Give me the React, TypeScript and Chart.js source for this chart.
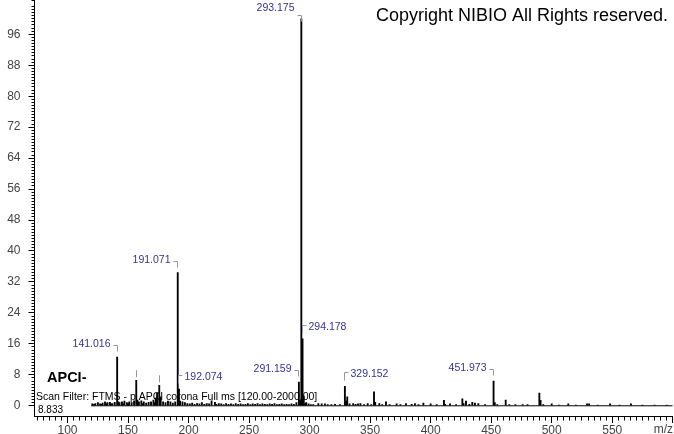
import React, { useEffect, useRef } from 'react';
import { Chart, registerables } from 'chart.js';

Chart.register(...registerables);

// ---- data (m/z, relative abundance) ----
const mzValues: number[] = [
  120.5, 121.9, 123.0, 125.1, 126.9, 128.0, 129.0, 131.0, 132.1, 133.0, 135.0, 136.1, 137.0, 139.0,
  141.016, 142.0, 143.0, 145.0, 146.0, 147.0, 149.0, 150.0, 151.0, 153.0, 155.0, 156.8, 157.8, 159.0,
  161.0, 162.0, 163.0, 165.0, 167.0, 169.0, 171.0, 172.0, 173.0, 174.0, 175.8, 177.0, 179.0, 181.0,
  183.0, 185.0, 187.0, 189.0, 191.071, 192.074, 193.0, 195.0, 197.0, 199.0, 201.0, 203.0, 205.0,
  207.0, 209.0, 211.0, 213.0, 215.0, 217.0, 219.0, 221.8, 223.0, 225.0, 227.0, 229.0, 231.0, 233.0,
  235.0, 237.0, 239.0, 241.0, 243.0, 245.0, 247.0, 249.0, 251.0, 253.0, 255.0, 257.0, 259.0, 261.0,
  263.0, 265.0, 267.0, 269.0, 271.0, 273.0, 275.0, 277.0, 279.0, 281.0, 283.0, 285.0, 287.0, 289.1,
  291.159, 292.2, 293.175, 294.178, 295.18, 296.2, 297.2, 299.2, 301.0, 303.0, 307.2, 310.0, 312.7,
  315.0, 318.0, 321.0, 325.0, 329.152, 330.15, 331.1, 333.0, 336.0, 338.0, 340.0, 342.0, 345.0,
  348.0, 351.0, 353.2, 354.2, 357.6, 360.0, 363.1, 366.0, 371.9, 375.0, 379.6, 384.3, 387.0, 390.0,
  394.0, 400.0, 405.0, 411.0, 412.0, 416.0, 421.0, 426.2, 427.2, 429.2, 432.0, 434.4, 436.6, 439.4,
  445.0, 451.973, 453.0, 455.0, 462.0, 465.0, 470.0, 476.0, 480.0, 489.8, 490.8, 493.0, 500.0, 506.0,
  513.7, 520.0, 529.2, 530.9, 538.0, 548.2, 556.0, 565.5, 575.0, 585.0, 595.0,
];
const intensities: number[] = [
  0.5, 0.4, 0.6, 0.8, 0.5, 0.4, 0.7, 1.0, 0.5, 0.8, 0.9, 0.5, 0.6, 0.9,
  12.6, 1.0, 0.8, 1.0, 0.5, 1.2, 0.8, 0.6, 1.0, 0.8, 1.3, 6.6, 1.5, 1.0,
  1.3, 0.6, 1.0, 0.7, 0.9, 1.0, 1.5, 0.8, 2.0, 3.2, 5.3, 2.3, 1.0, 0.8,
  1.2, 1.0, 0.7, 1.0, 34.4, 4.3, 1.2, 1.0, 0.8, 0.6, 0.5, 0.7, 0.4,
  0.6, 0.5, 0.8, 0.4, 0.6, 0.5, 1.3, 0.9, 0.4, 0.6, 0.5, 0.3, 0.6, 0.4,
  0.5, 0.3, 0.6, 0.4, 0.5, 0.3, 0.4, 0.6, 0.3, 0.5, 0.4, 0.6, 0.3, 0.5,
  0.4, 0.3, 0.5, 0.4, 0.6, 0.3, 0.4, 0.5, 0.3, 0.4, 0.3, 0.5, 0.4, 0.8,
  6.1, 1.5, 100, 17.3, 2.5, 0.6, 0.8, 0.5, 0.3, 0.3, 0.6, 0.5, 0.5,
  0.3, 0.3, 0.4, 0.3, 5.0, 1.2, 2.3, 0.5, 0.6, 0.4, 0.5, 0.6, 0.3,
  0.6, 0.3, 3.6, 0.9, 0.6, 0.3, 1.0, 0.3, 0.5, 0.3, 0.6, 0.4, 0.6, 0.3,
  0.7, 0.5, 0.3, 1.4, 0.4, 0.5, 0.3, 1.8, 0.6, 1.2, 0.4, 0.9, 0.7, 0.6,
  0.3, 6.4, 0.8, 0.3, 1.5, 0.3, 0.3, 0.3, 0.3, 3.3, 1.4, 0.3, 0.5, 0.2,
  0.5, 0.2, 0.5, 0.5, 0.2, 0.5, 0.2, 0.5, 0.2, 0.2, 0.2,
];

// labelled peaks
const labelMz: number[] = [141.016, 191.071, 192.074, 291.159, 293.175, 294.178, 329.152, 451.973];
const labelTexts: string[] = ['141.016', '191.071', '192.074', '291.159', '293.175', '294.178', '329.152', '451.973'];
const labelSides: string[] = ['left', 'left', 'right', 'left', 'left', 'right', 'right', 'left'];
// labels hidden by overlap (only their bracket is shown)
const hiddenLabelMz: number[] = [156.8, 175.8];

const yTickValues: number[] = [0, 8, 16, 24, 32, 40, 48, 56, 64, 72, 80, 88, 96];
const xTickValues: number[] = [100, 150, 200, 250, 300, 350, 400, 450, 500, 550, 600];
const baselineRange: number[] = [119.5, 600];

const copyrightText = 'Copyright NIBIO All Rights reserved.';
const ionText = 'APCI-';
const filterText = 'Scan Filter: FTMS - p APCI corona Full ms [120.00-2000.00]';
const rtText = '8.833';
const axisTitle = 'm/z';

const FONT = "'Liberation Sans', Arial, sans-serif";

function intensityAt(mz: number): number {
  let best = 0;
  let bestD = Infinity;
  mzValues.forEach((m, i) => {
    const d = Math.abs(m - mz);
    if (d < bestD) { bestD = d; best = i; }
  });
  return intensities[best];
}

const overlayPlugin = {
  id: 'overlay',
  afterDatasetsDraw(chart: any) {
    const ctx: CanvasRenderingContext2D = chart.ctx;
    const xs = chart.scales.x;
    const ys = chart.scales.y;
    const area = chart.chartArea;
    ctx.save();

    // minor ticks
    ctx.strokeStyle = '#000';
    ctx.lineWidth = 1;
    ctx.beginPath();
    const leftX = Math.round(area.left - 0.5) + 0.5;
    for (let k = 1; k * 0.8 <= ys.max; k++) {
      if (k % 10 === 0) continue;
      const py = Math.round(ys.getPixelForValue(k * 0.8) - 0.5) + 0.5;
      ctx.moveTo(leftX - 3, py);
      ctx.lineTo(leftX, py);
    }
    const bottomY = Math.round(area.bottom - 0.5) + 0.5;
    for (let v = 75; v <= xs.max; v += 5) {
      if (v % 50 === 0) continue;
      const px = Math.round(xs.getPixelForValue(v) - 0.5) + 0.5;
      ctx.moveTo(px, bottomY);
      ctx.lineTo(px, bottomY + 4);
    }
    ctx.stroke();

    // peak labels
    ctx.font = `10.5px ${FONT}`;
    ctx.textBaseline = 'middle';
    labelMz.forEach((mz, i) => {
      const px = Math.round(xs.getPixelForValue(mz) - 0.5) + 0.5;
      const top = ys.getPixelForValue(intensityAt(mz));
      ctx.strokeStyle = '#9494a8';
      ctx.beginPath();
      if (labelSides[i] === 'left') {
        const by = Math.round(Math.max(top - 12, 15)) + 0.5;
        ctx.moveTo(px - 4, by);
        ctx.lineTo(px, by);
        ctx.lineTo(px, by + 6);
        ctx.stroke();
        ctx.fillStyle = '#333399';
        ctx.textAlign = 'right';
        ctx.fillText(labelTexts[i], px - 7, Math.max(top - 13, 8.5));
      } else {
        const by = Math.round(top - 14) + 0.5;
        ctx.moveTo(px, by + 8);
        ctx.lineTo(px, by);
        ctx.lineTo(px + 4, by);
        ctx.stroke();
        ctx.fillStyle = '#333399';
        ctx.textAlign = 'left';
        ctx.fillText(labelTexts[i], px + 6, by + 1.5);
      }
    });
    hiddenLabelMz.forEach((mz) => {
      const px = Math.round(xs.getPixelForValue(mz) - 0.5) + 0.5;
      const top = ys.getPixelForValue(intensityAt(mz));
      ctx.strokeStyle = '#9494a8';
      ctx.beginPath();
      ctx.moveTo(px, top - 10);
      ctx.lineTo(px, top - 3);
      ctx.stroke();
    });

    // texts
    ctx.fillStyle = '#000';
    ctx.textBaseline = 'alphabetic';
    ctx.textAlign = 'right';
    ctx.font = `18px ${FONT}`;
    ctx.fillText(copyrightText, 668, 21);
    ctx.textAlign = 'left';
    ctx.font = `bold 14.5px ${FONT}`;
    ctx.fillText(ionText, 47, 382);
    ctx.font = `10.5px ${FONT}`;
    ctx.fillText(filterText, 36, 399.5);
    ctx.font = `10px ${FONT}`;
    ctx.fillText(rtText, 38, 412.5);

    // axis title at the last tick
    ctx.fillStyle = '#444';
    ctx.font = `12px ${FONT}`;
    ctx.textAlign = 'right';
    ctx.fillText(axisTitle, 673, 433);
    ctx.restore();
  },
};

export default function App() {
  const ref = useRef<HTMLCanvasElement>(null);
  useEffect(() => {
    document.body.style.margin = '0';
    const canvas = ref.current!;
    const chart = new Chart(canvas, {
      type: 'bar',
      data: {
        datasets: [
          {
            type: 'line',
            data: baselineRange.map((x) => ({ x, y: 0 })),
            borderColor: '#000',
            borderWidth: 1,
            pointRadius: 0,
          } as any,
          {
            type: 'bar',
            data: mzValues.map((m, i) => ({ x: m, y: intensities[i] })),
            backgroundColor: '#000',
            borderWidth: 0,
            barThickness: 1.2,
            grouped: false,
          } as any,
        ],
      },
      options: {
        animation: false,
        responsive: false,
        maintainAspectRatio: false,
        layout: { padding: { left: 0, right: 1.25, top: 0, bottom: 0 } },
        plugins: { legend: { display: false }, tooltip: { enabled: false } },
        scales: {
          x: {
            type: 'linear',
            offset: false,
            min: 72.74,
            max: 600,
            afterBuildTicks: (s: any) => { s.ticks = xTickValues.map((v) => ({ value: v })); },
            afterFit: (s: any) => {
              s.height = 18;
              s.paddingLeft = 0; s.paddingRight = 0; s.paddingTop = 0; s.paddingBottom = 0;
            },
            grid: { offset: false, drawOnChartArea: false, drawTicks: true, tickLength: 7, color: '#000' },
            border: { display: true, color: '#000', width: 1 },
            ticks: {
              callback: (v: any) => (v === 600 ? '' : String(v)),
              font: { family: FONT, size: 12 },
              color: '#444',
              padding: 0,
              maxRotation: 0,
              autoSkip: false,
            },
          },
          y: {
            type: 'linear',
            min: -2.64,
            max: 104.86,
            afterBuildTicks: (s: any) => { s.ticks = yTickValues.map((v) => ({ value: v })); },
            afterFit: (s: any) => {
              s.width = 34.5;
              s.paddingLeft = 0; s.paddingRight = 0; s.paddingTop = 0; s.paddingBottom = 0;
            },
            grid: { drawOnChartArea: false, drawTicks: true, tickLength: 6, color: '#000' },
            border: { display: true, color: '#000', width: 1 },
            ticks: {
              font: { family: FONT, size: 12 },
              color: '#444',
              padding: 8,
              autoSkip: false,
            },
          },
        },
      } as any,
      plugins: [overlayPlugin],
    });
    return () => chart.destroy();
  }, []);
  return (
    <canvas ref={ref} width={674} height={434} style={{ display: 'block', width: 674, height: 434 }} />
  );
}
